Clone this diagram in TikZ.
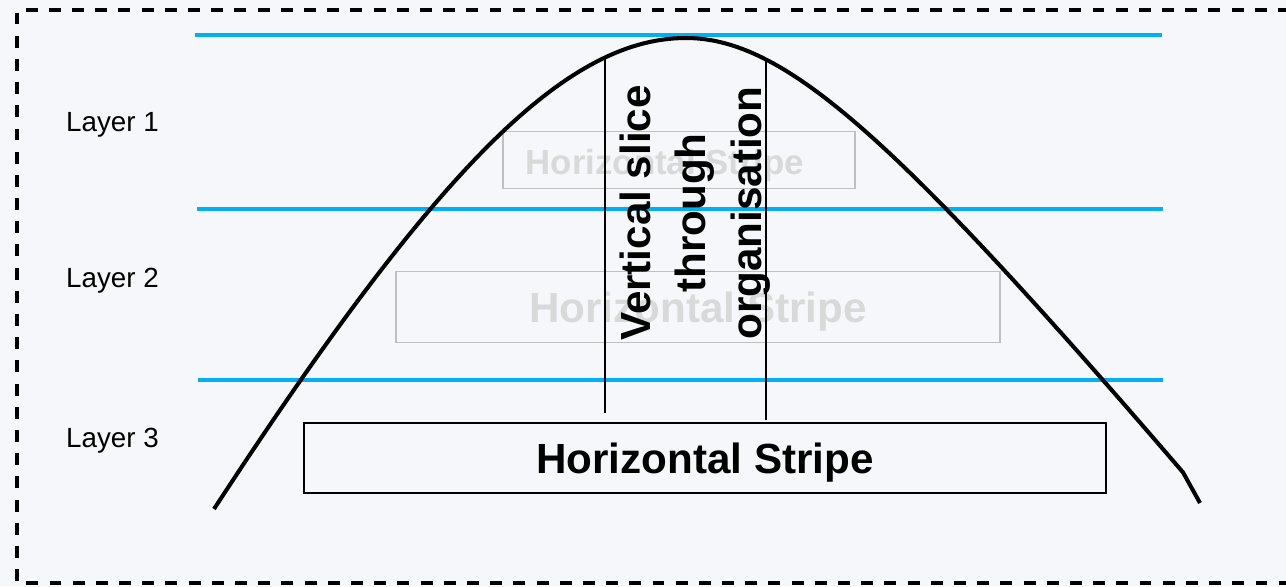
\documentclass[tikz,border=0pt]{standalone}
\usepackage{fontspec}
\setmainfont{Liberation Sans}
\usepackage{xcolor}
\usepackage{tikz}
\usetikzlibrary{positioning, calc}
\definecolor{bgcol}{RGB}{245,247,250}
\definecolor{layerblue}{RGB}{0,176,240}
\definecolor{fadegray}{RGB}{217,217,217}
\definecolor{fadeline}{RGB}{191,191,191}

\begin{document}
\begin{tikzpicture}[
  x=0.02cm, y=-0.02cm,
  layerline/.style={layerblue, line width=2.3pt},
  layerlabel/.style={anchor=west, font=\fontsize{15.8}{19}\selectfont},
  stripebox/.style={draw, line width=0.8pt, inner sep=0pt, text depth=0pt},
  fadebox/.style={stripebox, draw=fadeline},
  slice/.style={black, line width=0.8pt},
  bell/.style={black, line width=2.3pt, line join=round}
]
  % canvas
  \fill[bgcol] (0,0) rectangle (1286,586);
  \useasboundingbox (0,0) rectangle (1286,586);
  \draw[line width=1.8pt, dash pattern=on 6.8pt off 6.4pt] (1290,10) -- (17,10) -- (17,583) -- (1290,583);

  % layer boundaries
  \draw[layerline] (195,35) -- (1162,35);
  \draw[layerline] (197,209) -- (1163,209);
  \draw[layerline] (198,380) -- (1163,380);

  \node[layerlabel] (l1) at (60,125) {Layer 1};
  \node[layerlabel] (l2) at (60,281) {Layer 2};
  \node[layerlabel] (l3) at (60,441) {Layer 3};

  % stripes
  \node[fadebox, minimum width=352*0.02cm, minimum height=57*0.02cm] (s1) at (679,160) {};
  \node[text=fadegray, text depth=0pt, font=\fontsize{19.8}{24}\selectfont\bfseries] (t1) at (665,162) {Horizontal Stripe};
  \node[fadebox, minimum width=604*0.02cm, minimum height=71*0.02cm, text=fadegray,
        font=\fontsize{24}{29}\selectfont\bfseries] (s2) at (698,307) {Horizontal Stripe};
  \node[stripebox, minimum width=802*0.02cm, minimum height=70*0.02cm,
        font=\fontsize{24}{29}\selectfont\bfseries] (s3) at (705,458) {Horizontal Stripe};

  % bell curve
  \draw[bell] plot[domain=214:686, samples=80] (\x, {38+545*(sqrt(1+((\x-686)/300)^2)-1)})
    -- plot[domain=686:1183, samples=80] (\x, {38+216*(sqrt(1+((\x-686)/175)^2)-1)})
    -- (1200,503);

  % vertical slice
  \coordinate (a1) at (605,57);
  \coordinate (a2) at (605,413);
  \coordinate (b1) at (766,59);
  \coordinate (b2) at (766,420);
  \draw[slice] (a1) -- (a2);
  \draw[slice] (b1) -- (b2);
  \node[rotate=90, align=center, font=\fontsize{24}{31.7}\selectfont\bfseries] (vs) at (695,213)
    {Vertical slice\\through\\organisation};
\end{tikzpicture}
\end{document}
